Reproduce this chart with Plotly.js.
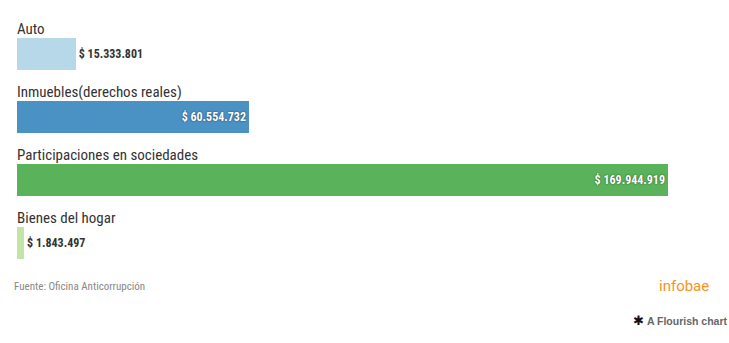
<!DOCTYPE html>
<html>
<head>
<meta charset="utf-8">
<script src="https://cdn.plot.ly/plotly-3.0.1.min.js"></script>
<style>
html,body{margin:0;padding:0;background:#fff;}
#chart{width:729px;height:343px;}
</style>
</head>
<body>
<div id="chart"></div>
<script>
const categories = ["Auto", "Inmuebles(derechos reales)", "Participaciones en sociedades", "Bienes del hogar"];
const values = [15333801, 60554732, 169944919, 1843497];
const barColors = ["#b6d8e9", "#4a91c4", "#5ab35a", "#c2e4a5"];
const textPositions = ["outside", "inside", "inside", "outside"];

const FONT = '"Roboto Condensed", "Liberation Sans Narrow", Roboto, sans-serif';

const trace = {
  type: "bar",
  orientation: "h",
  y: categories,
  x: values,
  width: 0.51,
  marker: {color: barColors},
  texttemplate: "$ %{x:,.0f}",
  textposition: textPositions,
  insidetextanchor: "end",
  insidetextfont: {family: FONT, size: 12, color: "#ffffff", weight: "bold", shadow: "0px 0px 2px rgba(0,0,0,0.6)"},
  outsidetextfont: {family: FONT, size: 12, color: "#333333", weight: "bold"},
  cliponaxis: false,
  hoverinfo: "skip"
};

const annotations = categories.map(c => ({
  x: 0, xref: "paper", xanchor: "left", xshift: -2,
  y: c, yref: "y", yanchor: "middle", yshift: 25,
  text: c, showarrow: false,
  font: {family: FONT, size: 15, color: "#333333"}
}));

annotations.push({
  x: -3/651, xref: "paper", xanchor: "left", xshift: -2,
  y: (274.5 - 287) / 252, yref: "paper", yanchor: "middle",
  text: "Fuente: Oficina Anticorrupción", showarrow: false,
  font: {family: FONT, size: 11, color: "#888888"}
});
annotations.push({
  x: (709 - 17) / 651, xref: "paper", xanchor: "right", xshift: 2,
  y: (274.5 - 287) / 252, yref: "paper", yanchor: "middle",
  text: "infobae", showarrow: false,
  font: {family: "Roboto, sans-serif", size: 15, color: "#f7941d"}
});
annotations.push({
  x: (727 - 17) / 651, xref: "paper", xanchor: "right", xshift: 3,
  y: (274.5 - 321) / 252, yref: "paper", yanchor: "middle",
  text: "<span style='color:#111;font-size:13px'>✱</span> <b>A Flourish chart</b>", showarrow: false,
  font: {family: "Liberation Sans, Arial, sans-serif", size: 10.5, color: "#666666"}
});

const layout = {
  width: 729, height: 343,
  margin: {l: 17, r: 61, t: 22.5, b: 68.5, pad: 0},
  paper_bgcolor: "#ffffff", plot_bgcolor: "#ffffff",
  separators: ",.",
  showlegend: false,
  xaxis: {range: [0, 169944919], visible: false, fixedrange: true},
  yaxis: {type: "category", range: [3.5, -0.5], visible: false, fixedrange: true},
  annotations: annotations,
  bargap: 0
};

Plotly.newPlot("chart", [trace], layout, {displayModeBar: false, staticPlot: true});
</script>
</body>
</html>
